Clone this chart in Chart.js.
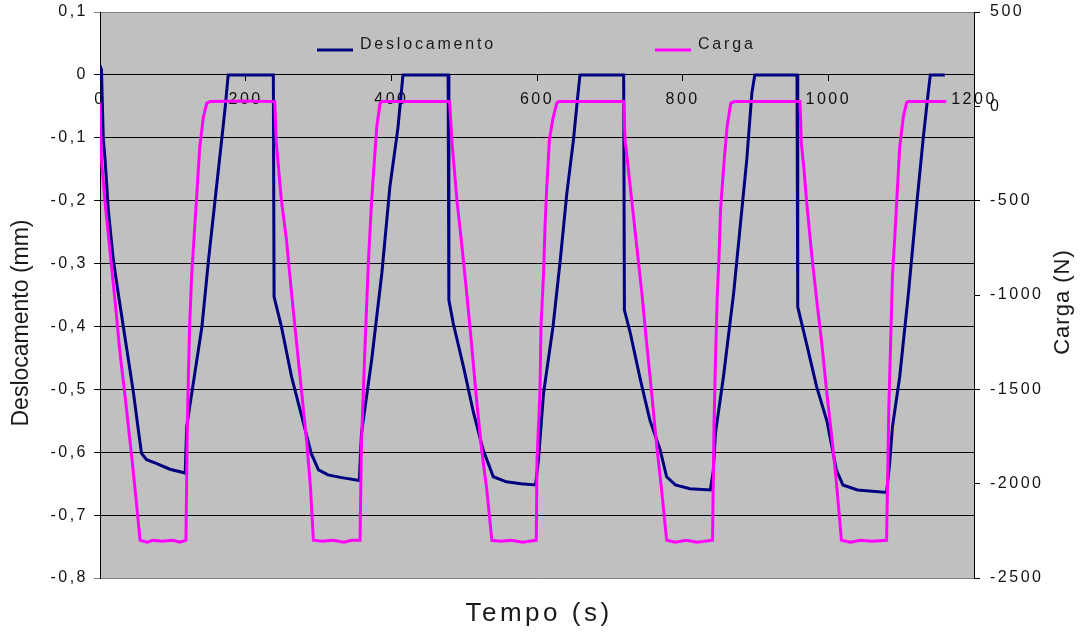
<!DOCTYPE html>
<html>
<head>
<meta charset="utf-8">
<script src="https://cdn.jsdelivr.net/npm/chart.js@4.4.1/dist/chart.umd.min.js"></script>
<style>
  html, body { margin: 0; padding: 0; background: #fff; }
  canvas { display: block; }
</style>
</head>
<body>
<canvas id="grafico" width="1090" height="638"></canvas>
<script>
// Deslocamento (mm) x tempo (s)
const deslTempo = [0, 2, 4.6, 7, 11.4, 18.3, 25, 32, 39, 46, 52, 57, 64, 78, 96, 117,
  119, 126, 140, 149, 158, 167, 172, 176, 238,
  239, 249, 263, 277, 290, 300, 313, 330, 356,
  359, 373, 387, 398, 409, 416, 478,
  479, 485, 499, 513, 526, 540, 558, 578, 598,
  602, 609, 622, 632, 641, 650, 655, 659, 719,
  720, 728, 742, 755, 769, 778, 790, 810, 838,
  842, 845, 856, 870, 879, 888, 895, 899, 957,
  958, 970, 984, 998, 1011, 1020, 1040, 1080,
  1084, 1088, 1098, 1110, 1121, 1130, 1136, 1140, 1160];
const deslValores = [0.015, 0.008, -0.104, -0.135, -0.215, -0.294, -0.347, -0.40, -0.453, -0.506, -0.559, -0.602, -0.612, -0.618, -0.627, -0.633,
  -0.56, -0.506, -0.40, -0.294, -0.199, -0.104, -0.05, 0, 0,
  -0.353, -0.40, -0.48, -0.543, -0.602, -0.628, -0.636, -0.640, -0.645,
  -0.57, -0.453, -0.315, -0.178, -0.085, 0, 0,
  -0.358, -0.395, -0.464, -0.538, -0.596, -0.639, -0.647, -0.650, -0.652,
  -0.612, -0.506, -0.40, -0.294, -0.188, -0.104, -0.045, 0, 0,
  -0.374, -0.41, -0.485, -0.549, -0.596, -0.639, -0.652, -0.658, -0.66,
  -0.63, -0.57, -0.48, -0.347, -0.241, -0.135, -0.029, 0, 0,
  -0.369, -0.427, -0.496, -0.55, -0.628, -0.652, -0.66, -0.664,
  -0.62, -0.56, -0.48, -0.347, -0.21, -0.104, -0.04, 0, 0];

// Carga (N) x tempo (s)
const cargaTempo = [0, 2, 7, 14, 21, 27.5, 34, 39, 44, 50, 55, 65, 72, 85, 100, 110, 118,
  120, 123, 126, 129.5, 133, 137, 142, 146.5, 151, 200, 240,
  242, 249, 256, 263, 270, 277, 284, 289, 293, 305, 320, 335, 345, 357,
  359, 364, 368.6, 373, 380, 384.5, 387, 440, 480,
  483, 490, 497, 503.5, 510, 517, 524, 531, 538, 550, 565, 580, 599,
  600, 604, 605.5, 609, 611, 613, 617, 621.5, 627, 630, 680, 719,
  721, 725.5, 730, 737, 744, 750.6, 757.5, 764, 771, 778, 790, 805, 820, 841,
  843, 845, 847.5, 850, 852, 857, 861, 866, 871, 961,
  963, 966.6, 970, 977, 984, 991, 998, 1005, 1011, 1018, 1030, 1045, 1060, 1080,
  1083, 1085.5, 1088, 1091.5, 1094, 1098, 1103, 1107.5, 1110, 1162];
const cargaValores = [20, -284, -512, -779, -1044, -1309, -1521, -1698, -1874, -2100, -2300, -2310, -2300, -2305, -2300, -2310, -2300,
  -1660, -1168, -885, -673, -461, -214, -55, 16, 25, 28, 25,
  -190, -496, -708, -990, -1256, -1520, -1786, -2020, -2300, -2305, -2300, -2310, -2300, -2300,
  -1784, -1256, -814, -496, -108, 16, 25, 25, 25,
  -178, -496, -744, -991, -1254, -1556, -1821, -2030, -2300, -2305, -2300, -2310, -2300,
  -1874, -1521, -1168, -885, -638, -461, -178, -72, 16, 25, 25, 25,
  -178, -337, -496, -744, -991, -1256, -1521, -1786, -2030, -2300, -2310, -2300, -2310, -2300,
  -1698, -1344, -1000, -790, -549, -284, -108, 16, 25, 25,
  -196, -337, -496, -779, -1026, -1256, -1521, -1760, -1990, -2300, -2310, -2300, -2305, -2300,
  -1609, -1256, -903, -673, -496, -214, -55, 20, 25, 25];

const series = ['Deslocamento', 'Carga'];
const tituloX = 'Tempo (s)';
const tituloY = 'Deslocamento (mm)';
const tituloY1 = 'Carga (N)';

const fonte = '"Liberation Sans", Arial, sans-serif';

function pontos(xs, ys) {
  return xs.map((t, i) => ({ x: t, y: ys[i] }));
}

// fundo cinza, legenda dentro da area e titulos dos eixos
const moldura = {
  id: 'moldura',
  beforeDraw(chart) {
    const { ctx, chartArea: a } = chart;
    ctx.save();
    ctx.fillStyle = '#c0c0c0';
    ctx.fillRect(a.left, a.top, a.right - a.left, a.bottom - a.top);
    ctx.restore();
    ctx.letterSpacing = '2.5px';
  },
  afterDraw(chart) {
    const { ctx, chartArea: a } = chart;
    ctx.save();
    // legenda
    const posLegenda = [217, 555];
    ctx.font = '16px ' + fonte;
    ctx.letterSpacing = '2.8px';
    ctx.textBaseline = 'middle';
    chart.data.datasets.forEach((ds, i) => {
      const x0 = a.left + posLegenda[i];
      ctx.strokeStyle = ds.borderColor;
      ctx.lineWidth = 3;
      ctx.beginPath();
      ctx.moveTo(x0, a.top + 38);
      ctx.lineTo(x0 + 36, a.top + 38);
      ctx.stroke();
      ctx.fillStyle = '#1a1a1a';
      ctx.textAlign = 'left';
      ctx.fillText(ds.label, x0 + 43, a.top + 33);
    });

    ctx.fillStyle = '#1a1a1a';
    ctx.textAlign = 'center';
    // titulo do eixo x
    ctx.font = '26px ' + fonte;
    ctx.letterSpacing = '3.5px';
    ctx.fillText(tituloX, (a.left + a.right) / 2 + 2, 614);

    // titulos verticais
    ctx.font = '23px ' + fonte;
    ctx.letterSpacing = '0px';
    ctx.save();
    ctx.translate(22, 323);
    ctx.rotate(-Math.PI / 2);
    ctx.fillText(tituloY, 0, 0);
    ctx.restore();

    ctx.font = '22px ' + fonte;
    ctx.letterSpacing = '1px';
    ctx.save();
    ctx.translate(1063, 302);
    ctx.rotate(-Math.PI / 2);
    ctx.fillText(tituloY1, 0, 0);
    ctx.restore();
    ctx.restore();
  }
};

const corGrade = (c) => {
  const v = c.tick ? c.tick.value : 0;
  return (Math.abs(v - 0.1) < 1e-9 || Math.abs(v + 0.8) < 1e-9) ? '#808080' : '#000';
};

// largura fixa dos eixos verticais, sem folga extra em cima e embaixo
function larguraFixa(w) {
  return (s) => {
    s.width = w;
    s.paddingTop = 0;
    s.paddingBottom = 0;
  };
}

const ctx = document.getElementById('grafico').getContext('2d');
const grafico = new Chart(ctx, {
  type: 'line',
  data: {
    datasets: [{
      label: series[0],
      data: pontos(deslTempo, deslValores),
      borderColor: '#000080',
      yAxisID: 'y',
      order: 2
    }, {
      label: series[1],
      data: pontos(cargaTempo, cargaValores),
      borderColor: '#ff00ff',
      yAxisID: 'y1',
      order: 1
    }]
  },
  options: {
    responsive: false,
    animation: false,
    devicePixelRatio: 1,
    layout: { padding: { top: 12, bottom: 60, left: 0, right: 0 } },
    elements: {
      point: { radius: 0 },
      line: { tension: 0, borderWidth: 3, fill: false }
    },
    plugins: {
      legend: { display: false },
      tooltip: { enabled: false }
    },
    scales: {
      x: {
        type: 'linear',
        min: 0,
        max: 1200,
        position: { y: 0 },
        z: 1,
        ticks: {
          stepSize: 200,
          autoSkip: false,
          maxRotation: 0,
          padding: 9,
          color: '#111',
          font: { family: fonte, size: 16 },
          callback: (v) => String(v)
        },
        grid: { drawOnChartArea: false, tickLength: 6, color: '#000' },
        border: { color: '#000', width: 1 }
      },
      y: {
        position: 'left',
        min: -0.8,
        max: 0.1,
        ticks: {
          stepSize: 0.1,
          padding: 6,
          color: '#111',
          font: { family: fonte, size: 16 },
          callback: (v) => Math.abs(v) < 1e-9 ? '0' : v.toFixed(1).replace('.', ',')
        },
        grid: { color: corGrade, tickLength: 6 },
        border: { color: '#000', width: 1 },
        afterFit: larguraFixa(100)
      },
      y1: {
        position: 'right',
        min: -2500,
        max: 500,
        ticks: {
          stepSize: 500,
          padding: 10,
          color: '#111',
          font: { family: fonte, size: 16 },
          callback: (v) => String(v)
        },
        grid: { drawOnChartArea: false, tickLength: 6, color: '#000' },
        border: { color: '#000', width: 1 },
        afterFit: larguraFixa(116)
      }
    }
  },
  plugins: [moldura]
});
</script>
</body>
</html>
